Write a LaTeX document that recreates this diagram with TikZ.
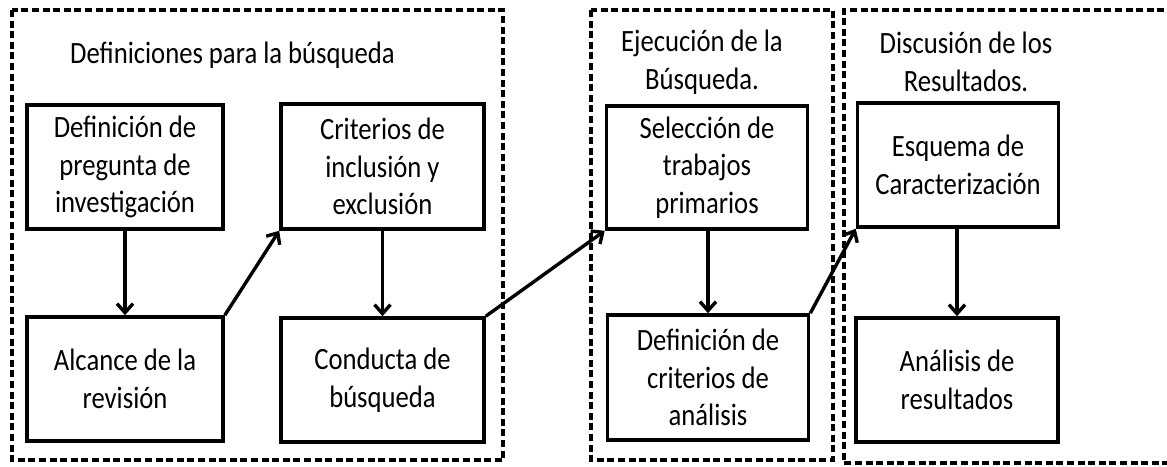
\documentclass[tikz,border=0pt]{standalone}
\usepackage{fontspec}
\setmainfont{Carlito}[FakeStretch=0.86]
\usetikzlibrary{arrows.meta}
\begin{document}
\begin{tikzpicture}[x=1pt,y=-1pt,
  stepbox/.style={draw,line width=3.6pt,inner sep=0pt,align=center,
    font=\fontsize{31}{37.7}\selectfont},
  title/.style={inner sep=0pt,align=center,font=\fontsize{31}{37.7}\selectfont},
  group/.style={draw,line width=3.2pt,dash pattern=on 7pt off 3.6pt},
  conn/.style={line width=3.4pt,-{Straight Barb[length=9pt,width=16pt]}}]
\useasboundingbox (0,0) rectangle (1167,466);
\fill[white] (0,0) rectangle (1167,466);
% groups
\draw[group] (12,10) rectangle (503,460);
\draw[group] (591,10) rectangle (833,460);
\draw[group] (1175,10) -- (844,10) -- (844,463) -- (1175,463);
% titles
\node[title,anchor=west] (t1) at (70,55) {Definiciones para la búsqueda};
\node[title] (t2) at (702,62) {Ejecución de la\\Búsqueda.};
\node[title] (t3) at (966,62) {Discusión de los\\Resultados.};
% boxes
\node[stepbox,minimum width=196pt,minimum height=124pt] (n1) at (125,167) {Definición de\\pregunta de\\investigación};
\node[stepbox,minimum width=196pt,minimum height=124pt] (n2) at (125,379) {Alcance de la\\revisión};
\node[stepbox,minimum width=203pt,minimum height=125pt] (n3) at (382.5,166.5) {Criterios de\\inclusión y\\exclusión};
\node[stepbox,minimum width=203pt,minimum height=124pt] (n4) at (382.5,380) {Conducta de\\búsqueda};
\node[stepbox,minimum width=201pt,minimum height=123pt] (n5) at (707,167.5) {Selección de\\trabajos\\primarios};
\node[stepbox,minimum width=201pt,minimum height=125pt] (n6) at (708,377.5) {Definición de\\criterios de\\análisis};
\node[stepbox,minimum width=201pt,minimum height=124pt] (n7) at (958,165) {Esquema de\\Caracterización};
\node[stepbox,minimum width=202pt,minimum height=124pt] (n8) at (957,380) {Análisis de\\resultados};
% connectors
\draw[conn] (n1.south) -- (n2.north);
\draw[conn] (n2.north east) -- (n3.south west);
\draw[conn] (n3.south) -- (n4.north);
\draw[conn] (n4.north east) -- (n5.south west);
\draw[conn] (n5.south -| n6.north) -- (n6.north);
\draw[conn] (n6.north east) -- (n7.south west);
\draw[conn] (n7.south -| n8.north) -- (n8.north);
\end{tikzpicture}
\end{document}
